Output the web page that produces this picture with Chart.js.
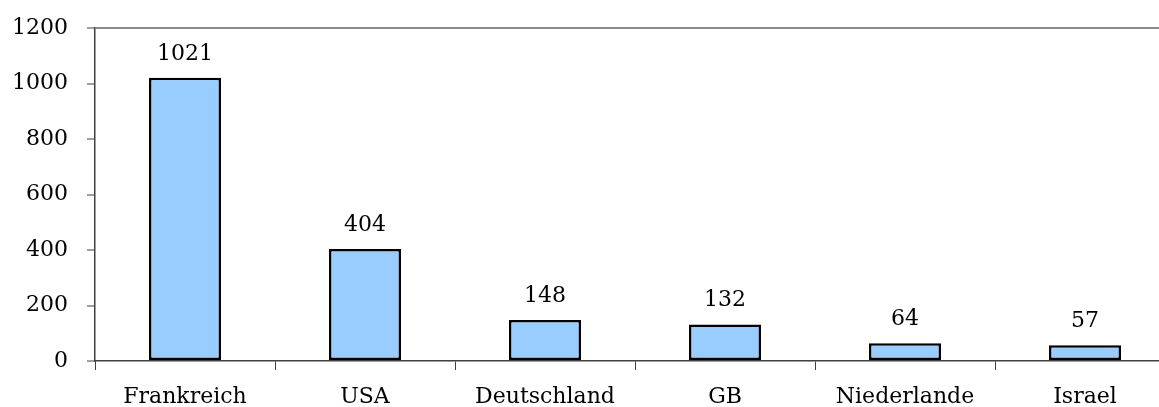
<!DOCTYPE html>
<html>
<head>
<meta charset="utf-8">
<script src="https://cdn.jsdelivr.net/npm/chart.js@4.4.0/dist/chart.umd.min.js"></script>
<style>
  html, body { margin: 0; padding: 0; background: #fff; overflow: hidden; height: 407px; }
  #wrap { width: 1180px; height: 411px; position: relative; margin-top: -4px; }
</style>
</head>
<body>
<div id="wrap"><canvas id="barChart"></canvas></div>
<script>
// values
const countries = ['Frankreich', 'USA', 'Deutschland', 'GB', 'Niederlande', 'Israel'];
const counts = [1021, 404, 148, 132, 64, 57];
const yMin = 0;
const yMax = 1200;
const yStep = 200;

const FONT = 'DejaVu Serif';

// draws the number above every bar
const valueLabels = {
    id: 'valueLabels',
    afterDatasetsDraw(chart) {
        const ctx = chart.ctx;
        const meta = chart.getDatasetMeta(0);
        ctx.save();
        ctx.font = '22px "' + FONT + '"';
        ctx.fillStyle = '#000';
        ctx.textAlign = 'center';
        ctx.textBaseline = 'alphabetic';
        meta.data.forEach(function (bar, i) {
            ctx.fillText(String(counts[i]), bar.x, bar.y - 18);
        });
        ctx.restore();
    }
};

const barctx = document.getElementById('barChart');
const barChart = new Chart(barctx, {
    type: 'bar',
    data: {
        labels: countries,
        datasets: [{
            data: counts,
            backgroundColor: '#99CCFF',
            borderColor: '#000000',
            borderWidth: 2.5,
            borderSkipped: false,
            categoryPercentage: 1.0,
            barPercentage: 0.4
        }]
    },
    options: {
        responsive: true,
        maintainAspectRatio: false,
        animation: false,
        layout: {
            padding: { left: 12, right: 5, top: 7, bottom: 0 }
        },
        plugins: {
            legend: { display: false },
            tooltip: { enabled: false }
        },
        scales: {
            x: {
                afterFit: function (scale) { scale.height = 46; },
                grid: {
                    offset: true,
                    drawOnChartArea: false,
                    tickLength: 9,
                    tickColor: '#404040',
                    tickWidth: 1
                },
                border: { color: '#404040', width: 1.5 },
                ticks: {
                    color: '#000',
                    font: { family: FONT, size: 22 },
                    padding: 14,
                    maxRotation: 0
                }
            },
            y: {
                min: yMin,
                max: yMax,
                afterFit: function (scale) { scale.width = 83; },
                grid: {
                    color: function (c) { return c.tick && c.tick.value === yMax ? '#8a8a8a' : 'rgba(0,0,0,0)'; },
                    lineWidth: 2,
                    tickLength: 8,
                    tickColor: '#404040',
                    tickWidth: 1
                },
                border: { color: '#404040', width: 1.5 },
                ticks: {
                    stepSize: yStep,
                    color: '#000',
                    font: { family: FONT, size: 22 },
                    padding: 19,
                    callback: function (v) { return String(v); }
                }
            }
        }
    },
    plugins: [valueLabels]
});
</script>
</body>
</html>
